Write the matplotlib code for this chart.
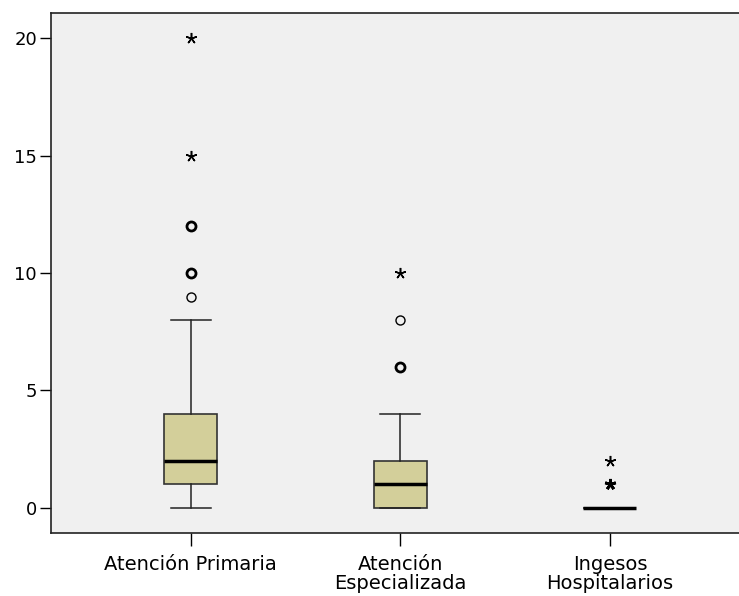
import matplotlib.pyplot as plt

# box summaries
groups = ["Atención Primaria", "Atención\nEspecializada", "Ingesos\nHospitalarios"]
q1 = [1, 0, 0]
med = [2, 1, 0]
q3 = [4, 2, 0]
whislo = [0, 0, 0]
whishi = [8, 4, 0]

# outliers (circles) and extremes (asterisks), count = how many overlap
out_x = [1, 1, 1, 2, 2]
out_y = [9, 10, 12, 6, 8]
out_n = [1, 2, 2, 2, 1]
ext_x = [1, 1, 2, 3, 3]
ext_y = [15, 20, 10, 1, 2]
ext_n = [1, 1, 1, 2, 1]

plt.rcParams['font.family'] = ['DejaVu Sans']

fig = plt.figure(figsize=(7.39, 5.96), dpi=100)
ax = fig.add_axes([0.069, 0.1057, 0.933, 0.873])
ax.set_facecolor('#F0F0F0')

stats = []
for i in range(len(groups)):
    stats.append(dict(med=med[i], q1=q1[i], q3=q3[i], whislo=whislo[i],
                      whishi=whishi[i], fliers=[], label=groups[i]))

ax.bxp(stats, positions=[1, 2, 3], widths=0.253, patch_artist=True,
       showfliers=False,
       boxprops=dict(facecolor='#D3CF9A', edgecolor='#333333', linewidth=1.2),
       medianprops=dict(color='black', linewidth=2.5),
       whiskerprops=dict(color='#222222', linewidth=1.1),
       capprops=dict(color='#222222', linewidth=1.1),
       capwidths=0.19)

for x, y, n in zip(out_x, out_y, out_n):
    ax.plot(x, y, marker='o', markersize=6.5, markerfacecolor='none',
            markeredgecolor='black', markeredgewidth=1.0 if n == 1 else 2.0,
            linestyle='none')
for x, y, n in zip(ext_x, ext_y, ext_n):
    ax.plot(x, y, marker=(5, 2, 0), markersize=8, color='black',
            markeredgewidth=1.1 if n == 1 else 2.0, linestyle='none')

ax.set_xlim(0.333, 3.623)
ax.set_ylim(-1.08, 21.1)
ax.set_yticks([0, 5, 10, 15, 20])
ax.set_xticks([1, 2, 3])
ax.set_xticklabels(groups, fontsize=14, linespacing=1.0)
ax.tick_params(axis='y', labelsize=13, length=8, width=1, pad=2)
ax.tick_params(axis='x', length=9, width=1, pad=7)
for s in ax.spines.values():
    s.set_linewidth(1.2)
    s.set_color('#222222')
ax.spines['right'].set_visible(False)

fig.savefig('out.png', dpi=100)
